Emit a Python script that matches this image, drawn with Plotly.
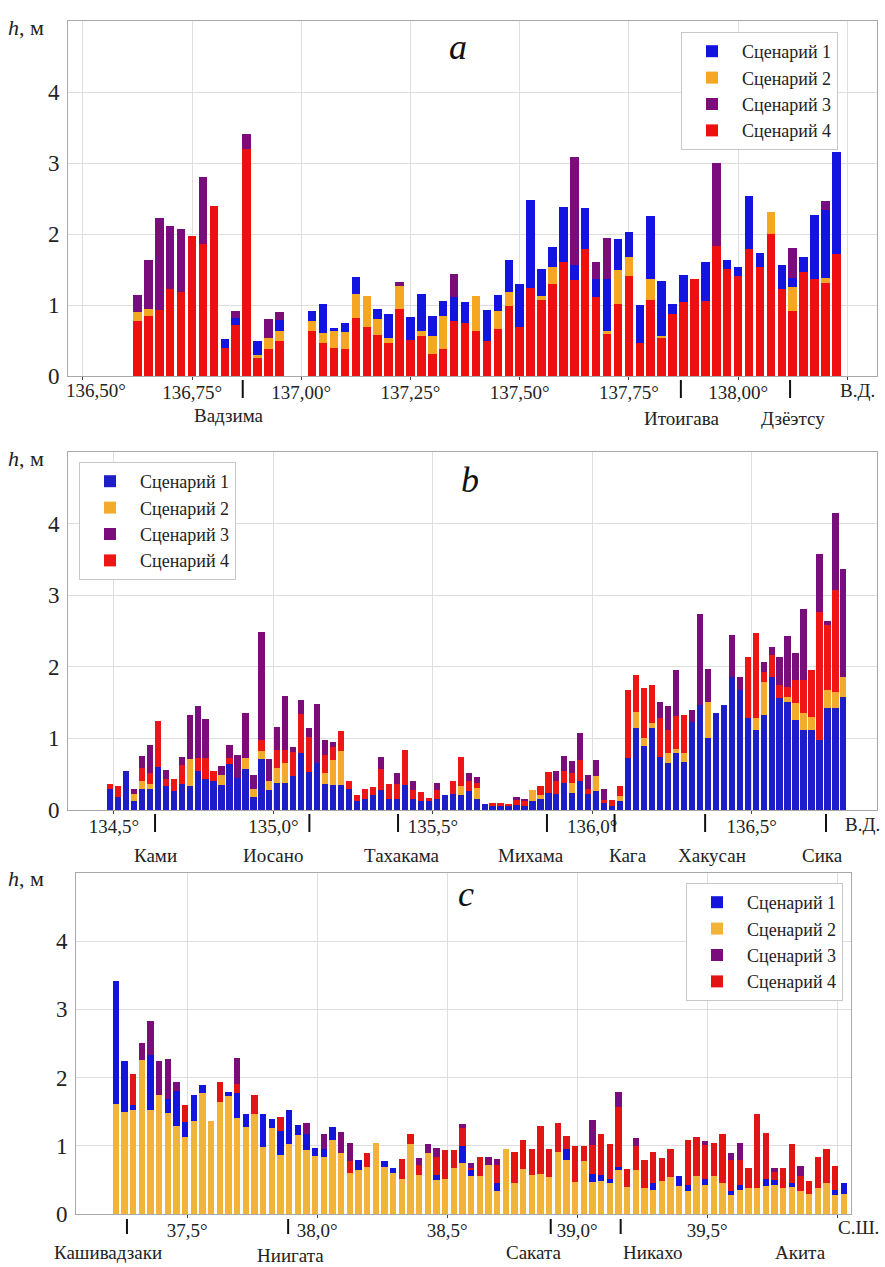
import plotly.graph_objects as go

W, H = 885, 1267
def px(x): return x / W
def py(y): return 1 - y / H

N = None
FONT = "Liberation Serif"
NAMES = ["Сценарий 1", "Сценарий 2", "Сценарий 3", "Сценарий 4"]

# ---------------- Panel a (longitude, °E) ----------------
a_lon = [round(136.625 + 0.025 * i, 4) for i in range(65)]
a_s1 = [N,N,N,N,N,N,N,N,0.52,0.82,N,0.49,N,0.79, N,N,
        0.92,1.02,0.67,0.74,1.40,N,0.94,0.88,N,0.83,
        1.15,0.84,1.05,1.11,1.04,N,0.93,1.14,1.63,1.30,
        2.48,1.51,1.82,2.38,1.57,2.37,1.37,1.37,1.93,2.03,
        1.00,2.26,1.34,1.02,1.42,N,1.60,N,1.63,1.54,
        2.53,1.73,N,1.57,1.38,1.68,2.27,2.34,3.16]
a_s2 = [0.90,0.95,N,N,N,N,N,N,N,N,N,0.29,0.54,0.64, N,N,
        0.77,0.61,0.64,0.62,1.16,1.13,0.80,0.54,1.27,N,
        0.63,0.57,0.85,N,N,1.12,N,0.92,1.19,N,
        N,1.13,1.54,N,N,N,N,0.63,1.49,1.67,
        N,1.37,0.57,N,N,N,N,N,N,N,
        N,N,2.31,N,1.26,N,N,1.38,N]
a_s3 = [1.14,1.63,2.23,2.11,2.07,N,2.80,N,N,0.92,3.41,N,0.80,0.90, N,N,
        N,N,N,N,N,N,N,N,1.32,N,
        N,N,N,1.44,N,N,N,N,N,N,
        N,N,N,N,3.08,N,1.60,1.95,N,N,
        N,N,N,N,N,N,N,3.00,N,N,
        N,N,N,N,1.80,N,N,2.47,N]
a_s4 = [0.78,0.84,0.93,1.23,1.18,1.97,1.86,2.39,0.40,0.72,3.20,0.25,0.38,0.50, N,N,
        0.63,0.46,0.40,0.38,0.82,0.69,0.58,0.46,0.94,0.51,
        0.57,0.31,0.38,0.78,0.74,0.63,0.49,0.66,0.98,0.69,
        1.24,1.07,1.30,1.60,1.35,1.79,1.11,0.59,1.02,1.41,
        0.47,1.07,0.53,0.88,1.04,1.37,1.06,1.83,1.51,1.41,
        1.79,1.53,2.00,1.23,0.91,1.47,1.36,1.31,1.72]
a_ticks = [136.5, 136.75, 137.0, 137.25, 137.5, 137.75, 138.0, 138.25]
a_ticktext = ["", "136,75°", "137,00°", "137,25°", "137,50°", "137,75°", "138,00°", ""]
a_first_label = "136,50°"
a_places = ["Вадзима", "Итоигава", "Дзёэтсу"]
a_place_lon = [136.866, 137.869, 138.119]
a_place_lbl = [136.835, 137.87, 138.125]

# ---------------- Panel b (longitude, °E) ----------------
b_lon = [round(134.4875 + 0.025 * i, 4) for i in range(93)]
b_s1 = [0.30,0.18,0.55,0.12,0.29,0.29,0.60,0.33,0.26,0.36,
        0.33,0.55,0.43,0.40,0.35,0.64,0.45,0.57,0.18,0.71,
        0.28,0.38,0.38,0.47,0.79,0.53,0.66,0.36,0.35,0.35,
        0.29,0.12,0.15,0.21,0.28,0.16,0.15,0.35,0.15,0.13,
        0.12,0.16,0.21,0.23,0.21,0.26,0.16,0.09,0.06,0.06,
        0.06,0.07,0.06,0.12,0.15,0.24,0.23,0.38,0.24,0.40,
        0.23,0.26,0.10,0.05,0.12,0.72,1.14,0.89,1.14,0.74,
        0.65,0.79,0.67,1.23,1.47,1.01,1.35,1.47,1.86,1.67,
        1.28,1.12,1.33,1.86,1.56,1.51,1.26,1.12,1.12,0.98,
        1.42,1.42,1.58]
b_s2 = [N,N,N,0.22,0.40,0.36,N,N,N,N,
        0.71,N,N,N,0.49,N,N,0.73,0.29,0.83,
        0.41,0.58,0.65,N,N,N,N,0.51,0.70,0.83,
        N,N,N,N,N,N,N,N,N,N,
        N,N,N,N,0.33,N,0.31,N,N,N,
        N,N,N,0.28,0.21,N,N,N,0.38,N,
        N,0.47,N,N,0.20,N,1.37,1.00,1.21,N,
        0.79,0.85,0.79,N,N,1.51,N,N,N,N,
        N,1.28,1.79,N,N,1.58,1.49,1.35,1.30,N,
        1.67,1.65,1.86]
b_s3 = [N,N,N,0.30,0.76,0.91,N,0.56,N,0.74,
        1.33,1.45,1.27,N,0.61,0.91,0.77,1.36,0.49,2.48,
        0.71,1.16,1.59,0.88,1.54,1.14,1.48,0.98,0.95,N,
        N,N,N,N,0.74,N,0.51,N,0.40,N,
        N,0.38,N,N,N,0.51,0.46,N,N,N,
        N,0.18,0.15,N,N,N,0.54,0.76,0.68,1.07,
        0.49,0.70,0.29,N,N,N,N,N,N,1.51,
        1.45,1.95,N,1.40,2.74,1.97,N,N,2.44,1.86,
        N,N,2.07,2.28,2.14,2.43,2.19,2.81,N,3.57,
        2.64,4.15,3.37]
b_s4 = [0.37,0.33,N,N,0.58,0.51,1.24,0.44,0.44,0.63,
        N,0.73,0.73,0.55,N,0.72,N,N,N,0.98,
        N,0.84,0.84,0.81,1.34,1.02,N,0.77,0.88,1.11,
        0.40,0.21,0.29,0.32,0.57,0.37,0.36,0.84,0.28,0.25,
        0.17,0.28,N,0.41,0.74,0.40,0.38,N,0.10,0.10,
        0.08,0.14,0.13,N,0.33,0.53,0.40,0.55,0.51,0.70,
        0.29,N,0.14,0.14,0.33,1.67,1.88,1.71,1.75,1.28,
        1.12,1.31,1.33,N,N,N,N,N,N,N,
        2.13,2.47,1.93,2.16,1.74,1.72,1.81,1.81,1.96,2.77,
        2.58,3.07,N]
b_ticks = [134.5, 135.0, 135.5, 136.0, 136.5]
b_ticktext = ["134,5°", "135,0°", "135,5°", "136,0°", "136,5°"]
b_places = ["Ками", "Иосано", "Тахакама", "Михама", "Кага", "Хакусан", "Сика"]
b_place_lon = [134.629, 135.113, 135.391, 135.858, 136.070, 136.354, 136.733]
b_place_lbl = [134.629, 134.999, 135.403, 135.808, 136.112, 136.375, 136.723]

# ---------------- Panel c (latitude, °N) ----------------
c_lat = [round(37.225 + i / 30, 4) for i in range(85)]
c_s1 = [3.41,2.24,1.60,N,2.33,N,1.69,1.81,1.35,1.74,
        1.89,N,N,1.79,1.77,1.47,N,1.46,1.39,1.21,
        1.52,1.30,1.18,0.97,0.96,1.27,N,N,0.79,N,
        N,0.78,0.68,N,N,N,N,0.57,N,N,
        0.99,0.64,N,N,0.45,N,N,N,N,N,
        N,N,0.96,N,N,0.59,0.57,0.52,0.69,N,
        N,N,0.45,N,N,0.55,0.42,N,0.51,N,
        N,0.33,0.42,N,N,0.52,0.50,N,0.45,N,
        N,N,N,0.35,0.45]
c_s2 = [1.62,1.50,1.52,2.26,1.53,1.74,1.48,1.29,1.13,1.37,
        1.77,1.37,1.64,1.73,1.41,1.27,1.46,0.98,1.26,0.86,
        1.03,1.16,0.94,0.85,0.84,1.08,0.90,0.60,0.65,0.69,
        1.04,0.69,0.60,0.51,1.02,0.57,0.90,0.50,0.52,0.67,
        0.75,0.56,0.56,0.72,0.33,0.96,0.45,0.66,0.57,0.59,
        0.54,0.91,0.79,0.47,0.77,0.47,0.49,0.45,0.64,0.39,
        0.64,0.38,0.35,0.49,0.54,0.41,0.33,0.55,0.42,0.55,
        0.45,0.28,0.35,0.38,0.38,0.41,0.42,0.38,0.39,0.34,
        0.29,0.38,0.45,0.28,0.30]
c_s3 = [N,N,N,2.51,2.83,2.25,2.28,1.94,N,N,
        N,N,N,N,2.29,N,N,N,N,N,
        N,N,1.34,N,1.17,N,1.20,1.04,N,N,
        N,N,N,N,N,0.82,1.02,0.97,N,N,
        1.32,0.75,N,0.84,0.80,N,N,N,N,N,
        N,N,N,N,N,1.38,N,N,1.79,N,
        1.11,N,N,N,N,N,N,N,1.07,N,
        N,0.90,1.04,N,N,N,0.68,N,N,0.70,
        N,N,N,N,N]
c_s4 = [N,N,2.06,N,N,N,N,N,1.60,N,
        N,N,1.94,N,1.91,N,1.75,N,N,1.42,
        N,N,N,N,N,N,N,0.78,N,0.89,
        N,N,N,0.81,1.17,0.72,N,0.84,0.94,0.94,
        1.26,0.68,0.83,N,0.72,N,0.91,1.09,0.96,1.29,
        0.95,1.33,1.14,0.99,1.00,1.01,1.18,1.03,1.57,0.66,
        1.00,0.79,0.91,0.82,0.95,N,1.08,1.13,1.01,1.04,
        1.17,0.79,0.79,0.67,1.46,1.19,0.62,0.67,1.02,0.55,
        0.49,0.84,0.95,0.70,N]
c_ticks = [37.5, 38.0, 38.5, 39.0, 39.5, 40.0]
c_ticktext = ["37,5°", "38,0°", "38,5°", "39,0°", "39,5°", ""]
c_places = ["Кашивадзаки", "Ниигата", "Саката", "Никахо", "Акита"]
c_place_tick = [37.268, 37.888, 38.898, 39.167]
c_place_lbl = [37.195, 37.898, 38.833, 39.29, 39.86]

COL = {"blue": "#1414e0", "orange": "#f5a623", "purple": "#7b0c7b", "red": "#ee1010"}
COL_B = {"blue": "#1e1ec8", "orange": "#f2ab2c", "purple": "#7b0c7b", "red": "#ee1515"}
COL_C = {"blue": "#1414dc", "orange": "#f2b438", "purple": "#7b0c7b", "red": "#e21414"}

fig = go.Figure()

def add_panel(x, series_order, width, xa, ya, legend, cols):
    # series_order: (scenario 1..4, values), drawn back -> front
    ckeys = {1: "blue", 2: "orange", 3: "purple", 4: "red"}
    for k, vals in series_order:
        fig.add_trace(go.Bar(
            x=x, y=vals, width=width, name=NAMES[k - 1],
            marker=dict(color=cols[ckeys[k]], line=dict(width=0)),
            xaxis=xa, yaxis=ya, legend=legend, legendrank=k,
        ))

add_panel(a_lon, [(3, a_s3), (1, a_s1), (2, a_s2), (4, a_s4)], 0.0195, "x", "y", "legend", COL)
add_panel(b_lon, [(3, b_s3), (4, b_s4), (2, b_s2), (1, b_s1)], 0.0195, "x2", "y2", "legend2", COL_B)
add_panel(c_lat, [(3, c_s3), (4, c_s4), (1, c_s1), (2, c_s2)], 0.024, "x3", "y3", "legend3", COL_C)

axis_common = dict(showgrid=True, gridcolor="#dedede", gridwidth=1, zeroline=False,
                   showline=True, linecolor="#a8a8a8", linewidth=1, mirror=True,
                   automargin=False)
xa_common = dict(axis_common, ticks="outside", ticklen=3, tickcolor="#444",
                 ticklabelstandoff=-4,
                 tickfont=dict(family=FONT, size=19, color="#222"))
ya_common = dict(axis_common, ticks="", range=[0, 5], tickvals=[0, 1, 2, 3, 4],
                 ticklabelstandoff=3,
                 tickfont=dict(family=FONT, size=23, color="#222"))

fig.update_layout(
    width=W, height=H, autosize=False,
    margin=dict(l=0, r=0, t=0, b=0, autoexpand=False),
    paper_bgcolor="white", plot_bgcolor="white",
    barmode="overlay", bargap=0,
    font=dict(family=FONT, size=18, color="#222"),
    xaxis=dict(xa_common, domain=[px(68), px(877)], range=[136.466, 138.318],
               tickvals=a_ticks, ticktext=a_ticktext, anchor="y"),
    yaxis=dict(ya_common, domain=[py(376), py(21)], anchor="x"),
    xaxis2=dict(xa_common, domain=[px(68), px(877)], range=[134.356, 136.893],
                tickvals=b_ticks, ticktext=b_ticktext, anchor="y2"),
    yaxis2=dict(ya_common, domain=[py(810), py(452)], anchor="x2"),
    xaxis3=dict(xa_common, domain=[px(76), px(851)], range=[37.072, 40.053],
                tickvals=c_ticks, ticktext=c_ticktext, anchor="y3"),
    yaxis3=dict(ya_common, domain=[py(1214), py(873)], anchor="x3"),
)

leg_common = dict(bgcolor="white", bordercolor="#c8c8c8", borderwidth=1,
                  font=dict(family=FONT, size=18, color="#222"),
                  xanchor="left", yanchor="top", tracegroupgap=0, itemwidth=50,
                  traceorder="normal")
fig.update_layout(
    legend=dict(leg_common, x=px(681), y=py(32)),
    legend2=dict(leg_common, x=px(79), y=py(462)),
    legend3=dict(leg_common, x=px(686), y=py(883)),
)

ann = []
shapes = []

def add_text(x, y, text, size, xref="paper", xanchor="center", color="#222"):
    ann.append(dict(x=x, y=py(y), xref=xref, yref="paper", text=text, showarrow=False,
                    xanchor=xanchor, yanchor="middle",
                    font=dict(family=FONT, size=size, color=color)))

for ytop in (28, 458, 878):
    add_text(px(6), ytop, "<i>h</i>, м", 22, xanchor="left")
for letter, (lx, ly) in zip(["a", "b", "c"], [(458, 47), (470, 480), (466, 894)]):
    add_text(px(lx), ly, "<i>%s</i>" % letter, 36, color="#111")
for txt, (lx, ly) in zip(["В.Д.", "В.Д.", "С.Ш."], [(857, 390), (862, 824), (858, 1227)]):
    add_text(px(lx), ly, txt, 19)
# first tick label of panel a sits right of its gridline, clear of the "0"
add_text(px(96), 390, a_first_label, 19)

def place_marks(xref, tick_vals, y0, y1):
    for v in tick_vals:
        shapes.append(dict(type="line", xref=xref, yref="paper", x0=v, x1=v,
                           y0=py(y0), y1=py(y1), line=dict(color="#111", width=2)))

def place_names(xref, names, vals, ys):
    for n, v, yy in zip(names, vals, ys):
        add_text(v, yy, n, 19, xref=xref)

place_marks("x", a_place_lon, 380, 398)
place_names("x", a_places, a_place_lbl, [415, 418, 418])
place_marks("x2", b_place_lon, 814, 832)
place_names("x2", b_places, b_place_lbl, [855] * 7)
place_marks("x3", c_place_tick, 1219, 1234)
place_names("x3", c_places, c_place_lbl, [1252, 1255, 1252, 1252, 1252])

fig.update_layout(annotations=ann, shapes=shapes)
fig.write_html("out.html", config={"displayModeBar": False},
               post_script="document.body.style.margin='0px';")
